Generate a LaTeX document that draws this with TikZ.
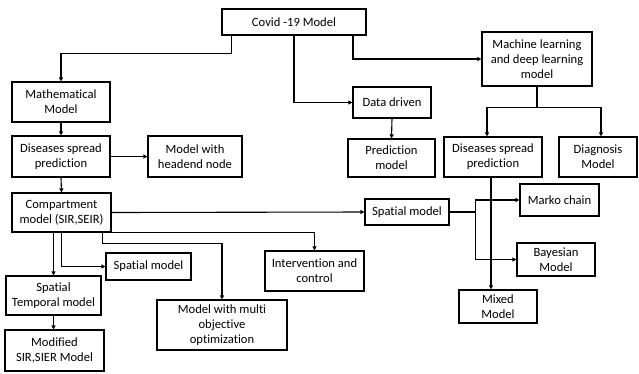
\documentclass[tikz,border=0pt]{standalone}
\usepackage{fontspec}
\setmainfont[Ligatures={NoCommon,NoRare,NoContextual}]{Carlito}
\usetikzlibrary{arrows.meta}
\begin{document}
\begin{tikzpicture}[x=1pt,y=-1pt,
  box/.style={draw,line width=1.2pt,align=center,inner sep=1pt,font=\fontsize{12.6}{15}\selectfont},
  arr/.style={draw,line width=1.1pt,-{Triangle[length=4pt,width=4pt]}},
  ln/.style={draw,line width=1.1pt}]
\useasboundingbox (0,0) rectangle (639,373);
\node[box,minimum width=144pt,minimum height=26pt] (covid) at (294,22) {Covid -19 Model};
\node[box,minimum width=98pt,minimum height=40pt] (math) at (61,102) {Mathematical\\Model};
\node[box,minimum width=98pt,minimum height=41pt] (dsl) at (61,156.5) {Diseases spread\\prediction};
\node[box,minimum width=94pt,minimum height=41pt] (head) at (195,156.5) {Model with\\headend node};
\node[box,minimum width=99pt,minimum height=39pt] (comp) at (61.5,212.5) {Compartment\\model (SIR,SEIR)};
\node[box,minimum width=85pt,minimum height=27pt] (spl) at (148.5,266.5) {Spatial model};
\node[box,minimum width=95pt,minimum height=39pt] (st) at (53.5,295.5) {Spatial\\Temporal model};
\node[box,minimum width=99pt,minimum height=41pt] (mod) at (54.5,350.5) {Modified\\SIR,SIER Model};
\node[box,minimum width=130pt,minimum height=50pt] (multi) at (222,325) {Model with multi\\objective\\optimization};
\node[box,minimum width=99pt,minimum height=40pt] (interv) at (314.5,271) {Intervention and\\control};
\node[box,minimum width=78pt,minimum height=31pt] (data) at (392,102.5) {Data driven};
\node[box,minimum width=87pt,minimum height=38pt] (pred) at (391.5,158) {Prediction\\model};
\node[box,minimum width=110pt,minimum height=54pt] (ml) at (537,59) {Machine learning\\and deep learning\\model};
\node[box,minimum width=98pt,minimum height=40pt] (dsr) at (493,157) {Diseases spread\\prediction};
\node[box,minimum width=78pt,minimum height=40pt] (diag) at (598,157) {Diagnosis\\Model};
\node[box,minimum width=84pt,minimum height=26pt] (spr) at (407,212) {Spatial model};
\node[box,minimum width=79pt,minimum height=32pt] (marko) at (559.5,200) {Marko chain};
\node[box,minimum width=78pt,minimum height=33pt] (bayes) at (556,259.5) {Bayesian\\Model};
\node[box,minimum width=78pt,minimum height=33pt] (mixed) at (498,306.5) {Mixed\\Model};
% connectors
\draw[arr] ([xshift=10pt]covid.south west) |- ([yshift=28pt]math.north) -- (math.north);
\draw[arr] (covid.south) |- (data.west);
\draw[arr] ([xshift=59pt]covid.south) |- (ml.west);
\draw[arr] (math.south) -- (dsl.north);
\draw[arr] (dsl.east) -- (head.west);
\draw[arr] (dsl.south) -- (comp.north);
\draw[arr] (data.south) -- (pred.north);
\draw[ln] (ml.south) -- ++(0,21) coordinate (mlj);
\draw[arr] (mlj) -| ([xshift=-6pt]dsr.north);
\draw[arr] (mlj) -| ([xshift=3pt]diag.north);
\draw[arr] ([xshift=-2pt]dsr.south) -- ([xshift=-2pt]dsr.south |- mixed.north);
\draw[arr] (comp.east) -- (spr.west);
\draw[ln] (spr.east) -- ++(26,0) coordinate (sj);
\draw[arr] (sj) |- (marko.west);
\draw[arr] (sj) |- (bayes.west);
\draw[arr] (comp.south east) -| (interv.north);
\draw[arr] ([xshift=-9pt]comp.south east) -- ++(0,11) -| (multi.north);
\draw[arr] (st.north |- comp.south) -- (st.north);
\draw[arr] (comp.south) |- (spl.west);
\draw[arr] (st.south) -- (st.south |- mod.north);
\end{tikzpicture}
\end{document}
